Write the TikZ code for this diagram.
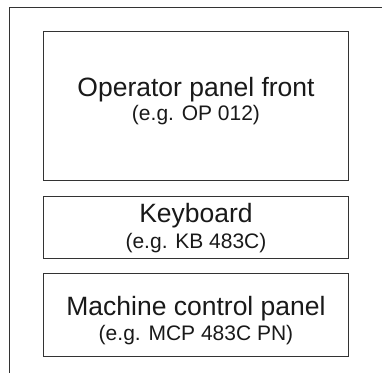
\documentclass[tikz,border=0pt]{standalone}
\usepackage{fontspec}
\setmainfont{Liberation Sans}

\begin{document}
\begin{tikzpicture}[x=1pt, y=-1pt,
        panel/.style={draw=black!80, line width=1pt, minimum width=304.6pt, inner sep=0pt},
        title/.style={anchor=base, inner sep=0pt, text=black!90, font=\fontsize{26.5}{30}\selectfont},
        model/.style={anchor=base, inner sep=0pt, text=black!90, font=\fontsize{21}{24}\selectfont},
    ]
        \useasboundingbox (0,0) rectangle (382,383);

        % Outer frame (only top and left edges visible)
        \draw[black!80, line width=1pt] (382,7) -- (9,7) -- (9,373);

        % Panels
        \node[panel, minimum height=149.7pt] (op) at (196,106) {};
        \node[panel, minimum height=61.6pt] (kb) at (196,227.5) {};
        \node[panel, minimum height=82.7pt] (mcp) at (196,315.3) {};

        % Panel names
        \node[title] (op-name) at (196,96.7) {Operator panel front};
        \node[title] (kb-name) at (196,222.7) {Keyboard};
        \node[title] (mcp-name) at (196,315.7) {Machine control panel};

        % Examples
        \node[model] (op-ex) at (196,120.7) {(e.g. OP 012)};
        \node[model] (kb-ex) at (196,248.3) {(e.g. KB 483C)};
        \node[model] (mcp-ex) at (196,340.7) {(e.g. MCP 483C PN)};
    \end{tikzpicture}
\end{document}
